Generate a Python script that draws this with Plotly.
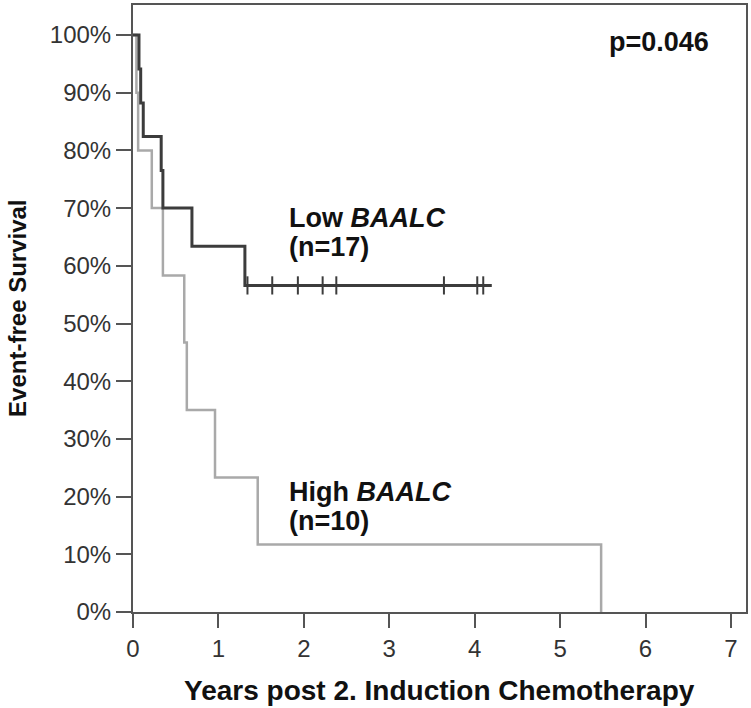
import plotly.graph_objects as go

# Kaplan-Meier step data
low_times = [0, 0.07, 0.09, 0.12, 0.33, 0.35, 0.69, 1.31, 4.2]
low_surv = [1.0, 0.941, 0.882, 0.824, 0.765, 0.70, 0.634, 0.566, 0.566]
low_censor_times = [1.34, 1.63, 1.93, 2.22, 2.38, 3.64, 4.03, 4.10]

high_times = [0, 0.04, 0.06, 0.22, 0.35, 0.60, 0.63, 0.96, 1.46, 5.48]
high_surv = [1.0, 0.9, 0.8, 0.7, 0.583, 0.467, 0.35, 0.233, 0.117, 0.0]

x_ticks = [0, 1, 2, 3, 4, 5, 6, 7]
y_ticks = [i / 10 for i in range(11)]
y_ticklabels = [f"{i * 10}%" for i in range(11)]


def step_value(times, surv, t):
    v = surv[0]
    for tt, s in zip(times, surv):
        if tt <= t:
            v = s
    return v


low_censor_surv = [step_value(low_times, low_surv, t) for t in low_censor_times]

DARK = "#3c3c3c"
LIGHT = "#a9a9a9"
AXIS = "#555555"
FONT = "Arial, Liberation Sans, sans-serif"

fig = go.Figure()
fig.add_trace(go.Scatter(x=high_times, y=high_surv, mode="lines",
                         line=dict(shape="hv", color=LIGHT, width=2.5),
                         showlegend=False, hoverinfo="skip"))
fig.add_trace(go.Scatter(x=low_times, y=low_surv, mode="lines",
                         line=dict(shape="hv", color=DARK, width=3),
                         showlegend=False, hoverinfo="skip"))
fig.add_trace(go.Scatter(x=low_censor_times, y=low_censor_surv, mode="markers",
                         marker=dict(symbol="line-ns-open", size=13, color=DARK,
                                     line=dict(color=DARK, width=2)),
                         showlegend=False, hoverinfo="skip"))

ann_font = dict(family=FONT, size=27, color="#111111")
fig.add_annotation(x=1.80, y=0.682, xref="x", yref="y", xanchor="left", yanchor="middle",
                   text="<b>Low <i>BAALC</i></b>", showarrow=False, font=ann_font)
fig.add_annotation(x=1.80, y=0.632, xref="x", yref="y", xanchor="left", yanchor="middle",
                   text="<b>(n=17)</b>", showarrow=False, font=ann_font)
fig.add_annotation(x=1.80, y=0.208, xref="x", yref="y", xanchor="left", yanchor="middle",
                   text="<b>High <i>BAALC</i></b>", showarrow=False, font=ann_font)
fig.add_annotation(x=1.80, y=0.158, xref="x", yref="y", xanchor="left", yanchor="middle",
                   text="<b>(n=10)</b>", showarrow=False, font=ann_font)
fig.add_annotation(x=5.55, y=0.988, xref="x", yref="y", xanchor="left", yanchor="middle",
                   text="<b>p=0.046</b>", showarrow=False, font=ann_font)

# axis titles
fig.add_annotation(x=0.5, y=-0.1297, xref="paper", yref="paper", xanchor="center", yanchor="middle",
                   text="<b>Years post 2. Induction Chemotherapy</b>", showarrow=False,
                   font=dict(family=FONT, size=28, color="#111111"))
fig.add_annotation(x=-0.1886, y=0.5, xref="paper", yref="paper", xanchor="center", yanchor="middle",
                   text="<b>Event-free Survival</b>", showarrow=False, textangle=-90,
                   font=dict(family=FONT, size=24, color="#111111"))

fig.update_layout(
    width=751, height=708,
    margin=dict(l=133, r=3, t=3, b=96),
    plot_bgcolor="white", paper_bgcolor="white",
    font=dict(family=FONT, size=24, color="#333333"),
)
fig.update_xaxes(range=[0, 7.176], tickvals=x_ticks, ticktext=[str(v) for v in x_ticks],
                 ticks="outside", ticklen=14, tickwidth=2, tickcolor=AXIS,
                 showline=True, linecolor=AXIS, linewidth=2, mirror=True,
                 showgrid=False, zeroline=False,
                 tickfont=dict(family=FONT, size=24, color="#333333"))
fig.update_yaxes(range=[0, 1.052], tickvals=y_ticks, ticktext=y_ticklabels,
                 ticks="outside", ticklen=15, tickwidth=2, tickcolor=AXIS,
                 showline=True, linecolor=AXIS, linewidth=2, mirror=True,
                 showgrid=False, zeroline=False,
                 tickfont=dict(family=FONT, size=24, color="#333333"))

fig.write_html("out.html", config={"displayModeBar": False},
               post_script="document.body.style.margin='0';")
